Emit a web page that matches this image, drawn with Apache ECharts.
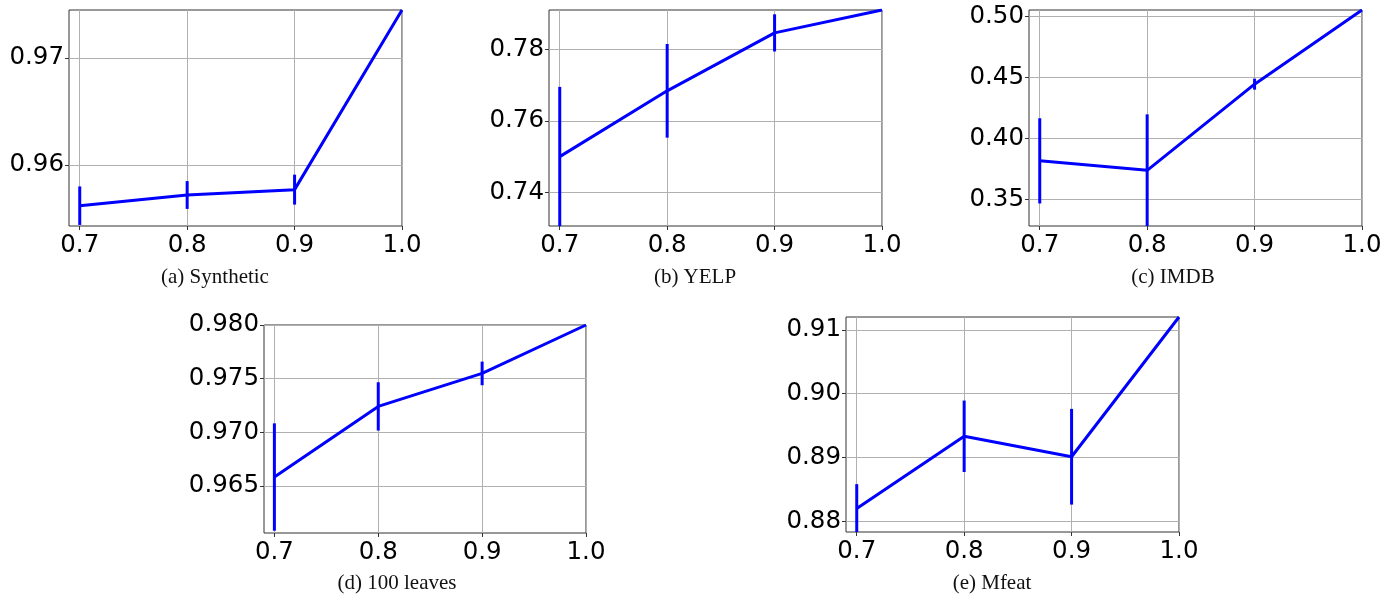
<!DOCTYPE html>
<html>
<head>
  <meta charset="utf-8">
  <title>Error bar panels</title>
  <script src="https://cdn.jsdelivr.net/npm/echarts@6/dist/echarts.min.js"></script>
  <style>
    html, body { margin: 0; padding: 0; background: #fff; }
    #main { width: 1395px; height: 595px; }
  </style>
</head>
<body>
  <div id="main"></div>
  <script type="text/javascript">
    // x positions shared by every panel
    var xs = [0.7, 0.8, 0.9, 1.0];
    var xTicks = [0.7, 0.8, 0.9, 1.0];

    // values and error half-widths
    var synthetic = [0.9562, 0.9572, 0.9577, 0.9745];
    var syntheticErr = [0.0018, 0.0013, 0.0014, 0];
    var yelp = [0.7500, 0.7684, 0.7846, 0.7910];
    var yelpErr = [0.0195, 0.0131, 0.0052, 0];
    var imdb = [0.3816, 0.3738, 0.4446, 0.5055];
    var imdbErr = [0.0350, 0.0460, 0.0045, 0];
    var leaves = [0.96584, 0.97242, 0.97549, 0.9800];
    var leavesErr = [0.0050, 0.00225, 0.0011, 0];
    var mfeat = [0.8820, 0.8933, 0.8901, 0.9120];
    var mfeatErr = [0.0038, 0.0056, 0.0075, 0];

    // y tick labels per panel
    var syntheticTicks = [0.96, 0.97];
    var yelpTicks = [0.74, 0.76, 0.78];
    var imdbTicks = [0.35, 0.40, 0.45, 0.50];
    var leavesTicks = [0.965, 0.970, 0.975, 0.980];
    var mfeatTicks = [0.88, 0.89, 0.90, 0.91];

    var captions = ['(a) Synthetic', '(b) YELP', '(c) IMDB', '(d) 100 leaves', '(e) Mfeat'];

    var panels = [
      { vals: synthetic, err: syntheticErr, ticks: syntheticTicks, dec: 2, ymin: 0.9543, ymax: 0.9745,
        box: { left: 69, top: 10, width: 333, height: 216 }, cap: [215, 267] },
      { vals: yelp, err: yelpErr, ticks: yelpTicks, dec: 2, ymin: 0.7306, ymax: 0.7910,
        box: { left: 549, top: 10, width: 333, height: 216 }, cap: [695, 267] },
      { vals: imdb, err: imdbErr, ticks: imdbTicks, dec: 2, ymin: 0.3281, ymax: 0.5055,
        box: { left: 1029, top: 10, width: 333, height: 216 }, cap: [1173, 267] },
      { vals: leaves, err: leavesErr, ticks: leavesTicks, dec: 3, ymin: 0.96063, ymax: 0.9800,
        box: { left: 264, top: 325, width: 322, height: 208 }, cap: [397, 573] },
      { vals: mfeat, err: mfeatErr, ticks: mfeatTicks, dec: 2, ymin: 0.8783, ymax: 0.9120,
        box: { left: 846, top: 317, width: 333, height: 215 }, cap: [992, 573] }
    ];

    var myChart = echarts.init(document.getElementById('main'));

    var grids = [], xAxes = [], yAxes = [], series = [], titles = [];
    var blue = '#0000ff';
    var tickFont = { color: '#000', fontSize: 24.5, fontFamily: 'DejaVu Sans' };

    panels.forEach(function (p, i) {
      grids.push({
        left: p.box.left, top: p.box.top, width: p.box.width, height: p.box.height,
        show: true, borderColor: '#333', borderWidth: 1, backgroundColor: '#fff'
      });
      xAxes.push({
        type: 'value', gridIndex: i, min: 0.69, max: 1.0,
        axisLine: { show: false },
        axisTick: { show: true, length: 4, lineStyle: { color: '#333' }, customValues: xTicks },
        axisLabel: Object.assign({ margin: 7, customValues: xTicks,
          formatter: function (v) { return v.toFixed(1); } }, tickFont),
        splitLine: { show: true, lineStyle: { color: '#b0b0b0', width: 1 } }
      });
      yAxes.push({
        type: 'value', gridIndex: i, min: p.ymin, max: p.ymax,
        axisLine: { show: false },
        axisTick: { show: true, length: 4, lineStyle: { color: '#333' }, customValues: p.ticks },
        axisLabel: Object.assign({ margin: 5, customValues: p.ticks,
          formatter: (function (d) { return function (v) { return v.toFixed(d); }; })(p.dec) }, tickFont),
        splitLine: { show: true, lineStyle: { color: '#b0b0b0', width: 1 } }
      });

      var lineData = xs.map(function (x, k) { return [x, p.vals[k]]; });
      var errData = xs.map(function (x, k) { return [x, p.vals[k], p.err[k]]; });

      series.push({
        type: 'line', xAxisIndex: i, yAxisIndex: i, data: lineData,
        symbol: 'none', lineStyle: { color: blue, width: 3 }, z: 3, animation: false
      });
      series.push({
        type: 'custom', xAxisIndex: i, yAxisIndex: i, data: errData, z: 4, animation: false,
        renderItem: function (params, api) {
          var x = api.value(0), y = api.value(1), e = api.value(2);
          if (!e) return;
          var cs = params.coordSys;
          var a = api.coord([x, y - e]), b = api.coord([x, y + e]);
          var y1 = Math.min(Math.max(a[1], cs.y), cs.y + cs.height);
          var y2 = Math.min(Math.max(b[1], cs.y), cs.y + cs.height);
          return {
            type: 'line',
            shape: { x1: a[0], y1: y1, x2: b[0], y2: y2 },
            style: { stroke: blue, lineWidth: 3 }
          };
        }
      });

      titles.push({
        text: captions[i], left: p.cap[0], top: p.cap[1], textAlign: 'center', padding: 0,
        textStyle: { fontFamily: 'Liberation Serif', fontSize: 21, fontWeight: 'normal', color: '#111' }
      });
    });

    var option = {
      animation: false,
      title: titles,
      grid: grids,
      xAxis: xAxes,
      yAxis: yAxes,
      series: series
    };

    myChart.setOption(option);
  </script>
</body>
</html>
